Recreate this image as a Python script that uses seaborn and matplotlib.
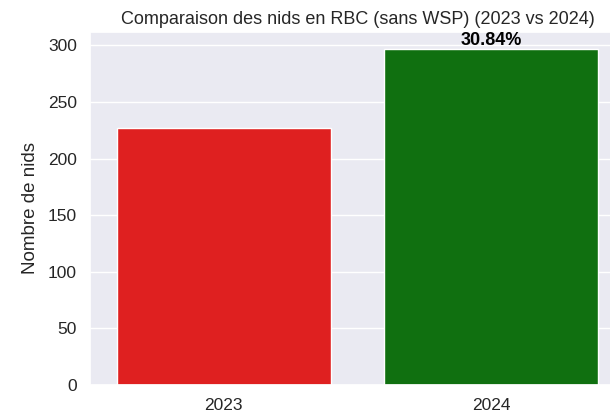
import seaborn as sns
import matplotlib.pyplot as plt
import pandas as pd

years = ["2023", "2024"]
nids = [227, 297]
colors = ["red", "green"]

sns.set_theme(style="darkgrid")
plt.rcParams['font.family'] = ['Liberation Sans', 'DejaVu Sans']

df = pd.DataFrame({"Année": years, "Nids": nids})
pct = (nids[1] - nids[0]) / nids[0] * 100

fig = plt.figure(figsize=(6.1, 4.19), dpi=100)
# axes wider than the canvas: the right edge is cut like in the screenshot
ax = fig.add_axes([90 / 610, 34 / 419, 535 / 610, 353 / 419])
sns.barplot(data=df, x="Année", y="Nids", hue="Année", palette=colors, legend=False, ax=ax)

ax.text(1, nids[1], "%.2f%%" % pct, ha="center", va="bottom", fontsize=13, fontweight="bold", color="black")
ax.set_title("Comparaison des nids en RBC (sans WSP) (2023 vs 2024)", fontsize=13)
ax.set_xlabel("")
ax.set_ylabel("Nombre de nids", fontsize=13.5, labelpad=6)
ax.tick_params(axis="both", labelsize=12.5)

fig.savefig("out.png", dpi=100)
